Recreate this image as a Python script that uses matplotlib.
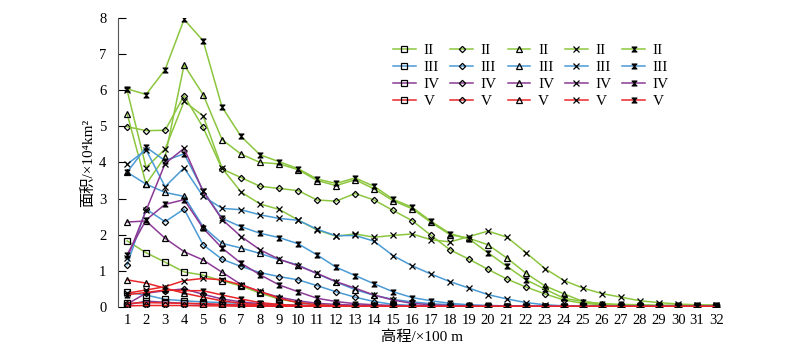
import matplotlib
matplotlib.use('Agg')
import matplotlib.pyplot as plt
from matplotlib.path import Path

plt.rcParams['font.family'] = ['Liberation Serif', 'DejaVu Serif', 'Noto Sans CJK SC']

x = list(range(1, 33))

# II (green)
g_sq = [1.83, 1.50, 1.24, 0.97, 0.88, 0.72, 0.58, 0.38, 0.22, 0.12, 0.07, 0.04, 0.03, 0.02, 0.02, 0.02,
        0.02, 0.01, 0.01, 0.01, 0.01, 0.01, 0.01, 0.01, 0.01, 0.01, 0.01, 0.01, 0.01, 0.01, 0.01, 0.01]
g_di = [4.99, 4.88, 4.89, 5.85, 4.97, 3.82, 3.58, 3.34, 3.28, 3.22, 2.96, 2.93, 3.14, 2.96, 2.67, 2.39,
        1.98, 1.58, 1.32, 1.04, 0.77, 0.55, 0.36, 0.19, 0.10, 0.06, 0.04, 0.03, 0.02, 0.02, 0.02, 0.02]
g_tr = [5.35, 3.40, 4.16, 6.70, 5.88, 4.63, 4.23, 4.00, 3.96, 3.80, 3.50, 3.36, 3.52, 3.27, 2.94, 2.72,
        2.34, 2.00, 1.90, 1.72, 1.35, 0.93, 0.58, 0.36, 0.15, 0.08, 0.05, 0.04, 0.03, 0.03, 0.02, 0.02]
g_x = [6.00, 3.86, 4.37, 5.69, 5.29, 3.84, 3.18, 2.85, 2.70, 2.41, 2.13, 1.96, 2.02, 1.93, 1.98, 2.02,
       1.86, 1.80, 1.95, 2.10, 1.93, 1.50, 1.06, 0.73, 0.52, 0.37, 0.27, 0.17, 0.12, 0.08, 0.06, 0.05]
g_bt = [6.04, 5.88, 6.57, 7.96, 7.37, 5.53, 4.72, 4.21, 4.02, 3.83, 3.54, 3.42, 3.57, 3.34, 2.98, 2.76,
        2.37, 2.03, 1.88, 1.50, 1.12, 0.75, 0.49, 0.24, 0.15, 0.09, 0.07, 0.06, 0.05, 0.05, 0.05, 0.05]

# III (blue)
b_sq = [0.40, 0.33, 0.21, 0.17, 0.14, 0.12, 0.10, 0.08, 0.06, 0.05, 0.04, 0.03, 0.03, 0.02, 0.02, 0.02,
        0.02, 0.01, 0.01, 0.01, 0.01, 0.01, 0.01, 0.01, 0.01, 0.01, 0.01, 0.01, 0.01, 0.01, 0.01, 0.01]
b_di = [1.17, 2.71, 2.36, 2.71, 1.72, 1.32, 1.12, 0.95, 0.84, 0.75, 0.59, 0.42, 0.27, 0.15, 0.07, 0.04,
        0.03, 0.02, 0.02, 0.01, 0.01, 0.01, 0.01, 0.01, 0.01, 0.01, 0.01, 0.01, 0.01, 0.01, 0.01, 0.01]
b_tr = [3.73, 3.40, 3.17, 3.06, 2.22, 1.76, 1.63, 1.48, 1.31, 1.16, 0.92, 0.69, 0.48, 0.32, 0.21, 0.14,
        0.09, 0.06, 0.04, 0.03, 0.02, 0.02, 0.02, 0.01, 0.01, 0.01, 0.01, 0.01, 0.01, 0.01, 0.01, 0.01]
b_x = [3.95, 4.35, 3.33, 3.85, 3.06, 2.73, 2.69, 2.55, 2.45, 2.40, 2.15, 1.97, 1.98, 1.82, 1.42, 1.14,
       0.91, 0.70, 0.52, 0.34, 0.22, 0.12, 0.06, 0.03, 0.02, 0.02, 0.02, 0.02, 0.02, 0.02, 0.02, 0.02]
b_bt = [3.73, 4.42, 4.05, 4.24, 3.22, 2.45, 2.22, 2.04, 1.92, 1.75, 1.44, 1.10, 0.87, 0.64, 0.42, 0.26,
        0.17, 0.10, 0.06, 0.04, 0.03, 0.02, 0.02, 0.02, 0.02, 0.02, 0.02, 0.02, 0.02, 0.02, 0.02, 0.02]

# IV (purple)
p_sq = [0.06, 0.16, 0.13, 0.10, 0.08, 0.06, 0.05, 0.04, 0.03, 0.02, 0.02, 0.02, 0.01, 0.01, 0.01, 0.01,
        0.01, 0.01, 0.01, 0.01, 0.01, 0.01, 0.01, 0.01, 0.01, 0.01, 0.01, 0.01, 0.01, 0.01, 0.01, 0.01]
p_di = [0.08, 0.38, 0.45, 0.50, 0.35, 0.22, 0.14, 0.09, 0.06, 0.04, 0.03, 0.02, 0.02, 0.01, 0.01, 0.01,
        0.01, 0.01, 0.01, 0.01, 0.01, 0.01, 0.01, 0.01, 0.01, 0.01, 0.01, 0.01, 0.01, 0.01, 0.01, 0.01]
p_tr = [2.35, 2.38, 1.90, 1.53, 1.30, 0.96, 0.62, 0.42, 0.27, 0.17, 0.10, 0.07, 0.05, 0.04, 0.03, 0.02,
        0.02, 0.02, 0.01, 0.01, 0.01, 0.01, 0.01, 0.01, 0.01, 0.01, 0.01, 0.01, 0.01, 0.01, 0.01, 0.01]
p_x = [1.35, 2.67, 3.97, 4.39, 3.20, 2.42, 1.95, 1.58, 1.32, 1.14, 0.93, 0.70, 0.52, 0.33, 0.19, 0.10,
       0.06, 0.04, 0.03, 0.02, 0.02, 0.02, 0.01, 0.01, 0.01, 0.01, 0.01, 0.01, 0.01, 0.01, 0.01, 0.01]
p_bt = [1.45, 2.41, 2.84, 2.97, 2.18, 1.63, 1.21, 0.89, 0.61, 0.42, 0.24, 0.15, 0.09, 0.06, 0.04, 0.03,
        0.02, 0.02, 0.01, 0.01, 0.01, 0.01, 0.01, 0.01, 0.01, 0.01, 0.01, 0.01, 0.01, 0.01, 0.01, 0.01]

# V (red)
r_sq = [0.10, 0.12, 0.11, 0.10, 0.09, 0.07, 0.05, 0.04, 0.03, 0.02, 0.02, 0.01, 0.01, 0.01, 0.01, 0.01,
        0.01, 0.01, 0.01, 0.01, 0.01, 0.01, 0.01, 0.01, 0.01, 0.01, 0.01, 0.01, 0.01, 0.01, 0.01, 0.01]
r_di = [0.03, 0.04, 0.04, 0.04, 0.03, 0.03, 0.02, 0.02, 0.01, 0.01, 0.01, 0.01, 0.01, 0.01, 0.01, 0.01,
        0.01, 0.01, 0.01, 0.01, 0.01, 0.01, 0.01, 0.01, 0.01, 0.01, 0.01, 0.01, 0.01, 0.01, 0.01, 0.01]
r_tr = [0.75, 0.66, 0.52, 0.38, 0.27, 0.17, 0.10, 0.06, 0.04, 0.03, 0.02, 0.02, 0.01, 0.01, 0.01, 0.01,
        0.01, 0.01, 0.01, 0.01, 0.01, 0.01, 0.01, 0.01, 0.01, 0.01, 0.01, 0.01, 0.01, 0.01, 0.01, 0.01]
r_x = [0.38, 0.47, 0.56, 0.73, 0.79, 0.75, 0.61, 0.43, 0.24, 0.12, 0.06, 0.03, 0.02, 0.02, 0.01, 0.01,
       0.01, 0.01, 0.01, 0.01, 0.01, 0.01, 0.01, 0.01, 0.01, 0.01, 0.01, 0.01, 0.01, 0.01, 0.01, 0.01]
r_bt = [0.34, 0.40, 0.47, 0.45, 0.45, 0.33, 0.22, 0.12, 0.07, 0.04, 0.03, 0.02, 0.01, 0.01, 0.01, 0.01,
        0.01, 0.01, 0.01, 0.01, 0.01, 0.01, 0.01, 0.01, 0.01, 0.01, 0.01, 0.01, 0.01, 0.01, 0.01, 0.01]

labels = ['II', 'III', 'IV', 'V']
colors = ['#8cc63f', '#4a9ad4', '#8b3a95', '#e8262a']
series = {
    's': [g_sq, b_sq, p_sq, r_sq],
    'D': [g_di, b_di, p_di, r_di],
    '^': [g_tr, b_tr, p_tr, r_tr],
    'x': [g_x, b_x, p_x, r_x],
    'bt': [g_bt, b_bt, p_bt, r_bt],
}

bowtie = Path([(-1, 1), (1, 1), (-1, -1), (1, -1), (-1, 1)],
              [Path.MOVETO, Path.LINETO, Path.LINETO, Path.LINETO, Path.CLOSEPOLY])

fig = plt.figure(figsize=(8, 3.52), dpi=100)
ax = fig.add_axes([0.147, 0.128, 0.76, 0.821])

handles = {}
for ci in range(4):
    for key, vals in series.items():
        ys = vals[ci]
        if key == 'bt':
            kw = dict(marker=bowtie, markersize=3.6, markerfacecolor='k', markeredgewidth=0.8)
        elif key == 'x':
            kw = dict(marker='x', markersize=4.3, markerfacecolor='none', markeredgewidth=0.9)
        elif key == 'D':
            kw = dict(marker='D', markersize=3.2, markerfacecolor='none', markeredgewidth=0.9)
        else:
            kw = dict(marker=key, markersize=4.2, markerfacecolor='none', markeredgewidth=0.9)
        ln, = ax.plot(x, ys, color=colors[ci], lw=1.1, markeredgecolor='k',
                      label=labels[ci], **kw)
        handles[(key, ci)] = ln

order = []
for key in ['s', 'D', '^', 'x', 'bt']:
    for ci in range(4):
        order.append(handles[(key, ci)])

ax.legend(order, [h.get_label() for h in order], ncol=5, frameon=False,
          loc='upper left', bbox_to_anchor=(0.43, 0.96), fontsize=11,
          handlelength=1.5, handletextpad=0.5, columnspacing=0.7,
          labelspacing=0.22)

ax.set_xlim(0.5, 32.5)
ax.set_ylim(0, 8)
ax.set_xticks(x)
ax.set_yticks(range(0, 9))
ax.tick_params(axis='x', length=0, pad=5, labelsize=10.5)
ax.tick_params(axis='y', direction='in', length=6, pad=8, labelsize=10.5)
for s in ['top', 'right', 'bottom']:
    ax.spines[s].set_visible(False)
ax.spines['left'].set_color('#555555')

ax.set_xlabel('高程/×100 m', fontsize=11)
ax.set_ylabel('面积/×10⁴km²', fontsize=11)
ax.xaxis.set_label_coords(0.5, -0.08)
ax.yaxis.set_label_coords(-0.037, 0.5)

fig.savefig('out.png', dpi=100)
